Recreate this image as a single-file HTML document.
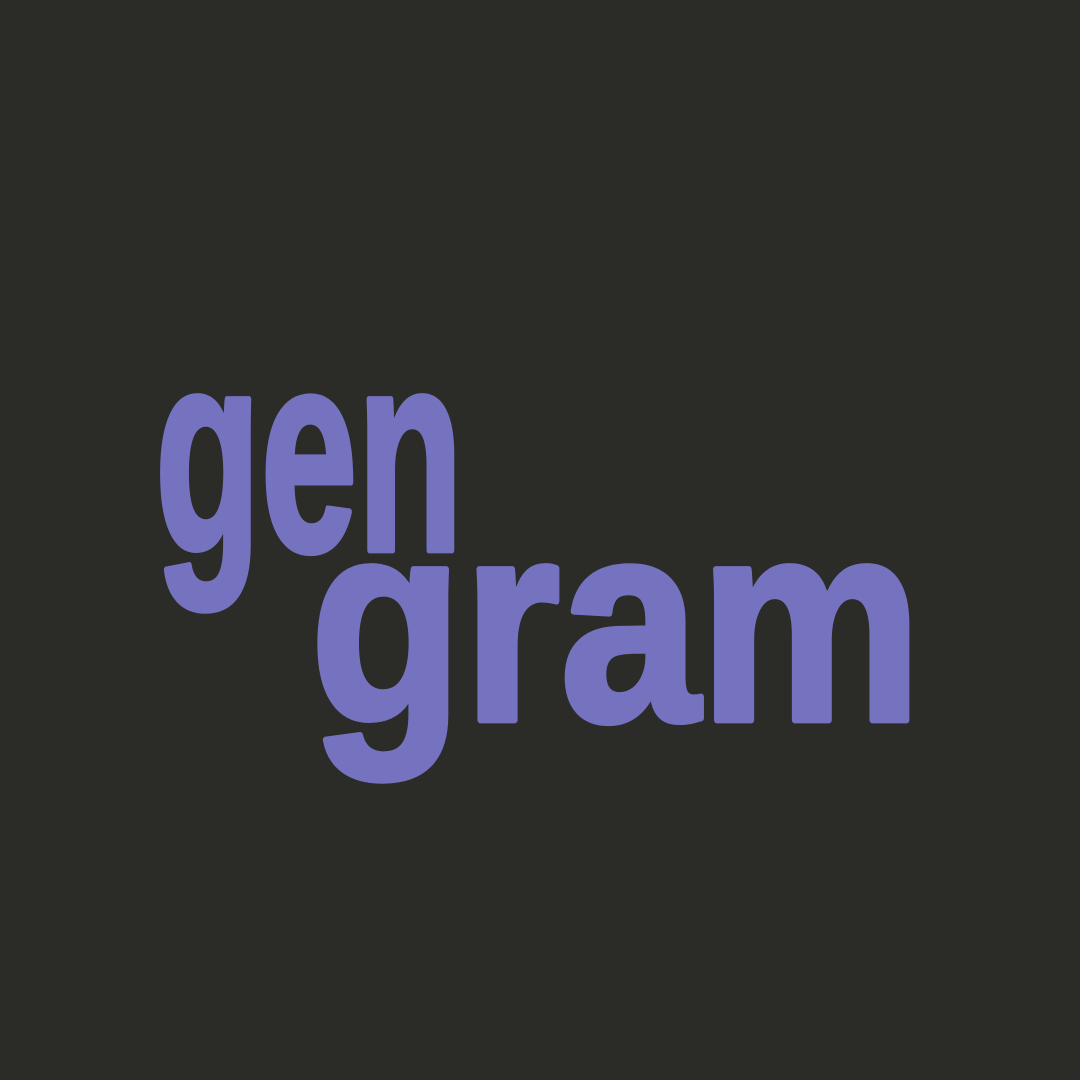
<!DOCTYPE html>
<html><head><meta charset="utf-8"><style>
html,body{margin:0;padding:0;background:#2b2b27;}
svg{display:block}
</style></head><body>
<svg width="1080" height="1080" viewBox="0 0 1080 1080" xmlns="http://www.w3.org/2000/svg">
<rect width="1080" height="1080" fill="#2b2b27"/>
<g transform="translate(0,550) scale(1,0.95) translate(0,-550)">
<text x="155" y="550" font-family="Liberation Sans, sans-serif" font-weight="bold" font-size="300" fill="#7572c0" stroke="#7572c0" stroke-width="7" stroke-linejoin="round" textLength="308" lengthAdjust="spacingAndGlyphs">gen</text>
</g>
<g transform="translate(0,720) scale(1,0.95) translate(0,-720)">
<text x="310" y="720" font-family="Liberation Sans, sans-serif" font-weight="bold" font-size="300" fill="#7572c0" stroke="#7572c0" stroke-width="7" stroke-linejoin="round" textLength="612" lengthAdjust="spacingAndGlyphs">gram</text>
</g>
</svg>
</body></html>
